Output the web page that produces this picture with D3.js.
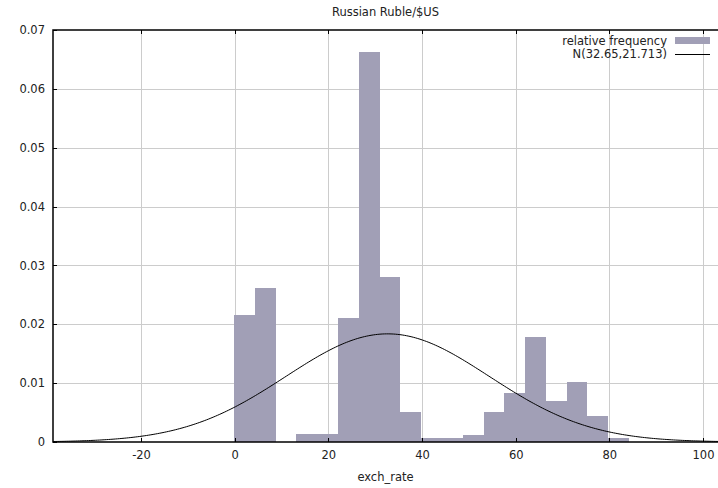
<!DOCTYPE html>
<html>
<head>
<meta charset="utf-8">
<script src="https://cdn.jsdelivr.net/npm/d3@7"></script>
<style>
  html, body { margin: 0; padding: 0; background: #fff; }
  svg { display: block; font-family: "DejaVu Sans", sans-serif; }
</style>
</head>
<body>
<svg id="chart" width="718" height="488"></svg>
<script>
// Histogram of the exchange rate (relative frequency density per bin)
const binCenters = [2.07, 6.51, 10.95, 15.39, 19.83, 24.27, 28.71, 33.15, 37.59, 42.03,
                    46.47, 50.91, 55.35, 59.79, 64.23, 68.67, 73.11, 77.55, 81.99];
const binWidth = 4.44;
const relFreq = [0.0216, 0.0261, 0, 0.0013, 0.0013, 0.0210, 0.0663, 0.0280, 0.0051, 0.0007,
                 0.0007, 0.0012, 0.0051, 0.0083, 0.0178, 0.0070, 0.0102, 0.0044, 0.0007];

// Fitted normal density N(mean, sd)
const normMean = 32.65;
const normSd = 21.713;

const xTicks = [-20, 0, 20, 40, 60, 80, 100];
const yTicks = [0, 0.01, 0.02, 0.03, 0.04, 0.05, 0.06, 0.07];

const titleText = "Russian Ruble/$US";
const xLabel = "exch_rate";
const legendLabels = ["relative frequency", "N(32.65,21.713)"];

const plotL = 53, plotR = 718, plotT = 30, plotB = 442;
const barColor = "#a19fb6";
const gridColor = "#cccccc";
const fontSize = 11.5;

const svg = d3.select("#chart");
const x = d3.scaleLinear().domain([-38.8, 103.2]).range([plotL, plotR]);
const y = d3.scaleLinear().domain([0, 0.07]).range([plotB, plotT]);

// grid
const grid = svg.append("g");
grid.selectAll("line.vx").data(xTicks).join("line")
  .attr("x1", d => Math.round(x(d)) + 0.5).attr("x2", d => Math.round(x(d)) + 0.5)
  .attr("y1", plotT).attr("y2", plotB)
  .attr("stroke", gridColor).attr("stroke-width", 1);
grid.selectAll("line.hy").data(yTicks.filter(d => d > 0 && d < 0.07)).join("line")
  .attr("x1", plotL).attr("x2", plotR)
  .attr("y1", d => Math.round(y(d)) + 0.5).attr("y2", d => Math.round(y(d)) + 0.5)
  .attr("stroke", gridColor).attr("stroke-width", 1);

// bars
svg.append("g").attr("shape-rendering", "crispEdges")
  .selectAll("rect").data(binCenters.map((c, i) => ({ c, f: relFreq[i] })).filter(d => d.f > 0))
  .join("rect")
  .attr("x", d => Math.round(x(d.c - binWidth / 2)))
  .attr("width", d => Math.round(x(d.c + binWidth / 2)) - Math.round(x(d.c - binWidth / 2)))
  .attr("y", d => Math.round(y(d.f)))
  .attr("height", d => plotB - Math.round(y(d.f)))
  .attr("fill", barColor);

// normal density curve
const dens = v => Math.exp(-0.5 * ((v - normMean) / normSd) ** 2) / (normSd * Math.sqrt(2 * Math.PI));
const xs = d3.range(300).map(i => x.domain()[0] + (x.domain()[1] - x.domain()[0]) * i / 299);
svg.append("path")
  .datum(xs)
  .attr("d", d3.line().x(v => x(v)).y(v => y(dens(v))))
  .attr("fill", "none").attr("stroke", "#000").attr("stroke-width", 1);

// axes
const xAxis = d3.axisBottom(x).tickValues(xTicks).tickSize(0).tickPadding(9)
  .tickFormat(d => String(d));
const gx = svg.append("g").attr("transform", `translate(0,${plotB})`).call(xAxis);
gx.select(".domain").remove();
gx.selectAll("text").attr("font-size", fontSize).attr("font-family", "DejaVu Sans").attr("fill", "#222");

const yAxis = d3.axisLeft(y).tickValues(yTicks).tickSize(0).tickPadding(8)
  .tickFormat(d => d === 0 ? "0" : d3.format(".2f")(d));
const gy = svg.append("g").attr("transform", `translate(${plotL},0)`).call(yAxis);
gy.select(".domain").remove();
gy.selectAll("text").attr("font-size", fontSize).attr("font-family", "DejaVu Sans").attr("fill", "#222");

// inner tick marks
const tk = svg.append("g").attr("stroke", "#000").attr("stroke-width", 1);
xTicks.forEach(t => {
  const px = Math.round(x(t)) + 0.5;
  tk.append("line").attr("x1", px).attr("x2", px).attr("y1", plotB).attr("y2", plotB - 4);
  tk.append("line").attr("x1", px).attr("x2", px).attr("y1", plotT).attr("y2", plotT + 4);
});
yTicks.forEach(t => {
  const py = Math.round(y(t)) + 0.5;
  tk.append("line").attr("x1", plotL).attr("x2", plotL + 4).attr("y1", py).attr("y2", py);
});

// frame
svg.append("path")
  .attr("d", `M${plotR},${plotT}H${plotL}V${plotB}H${plotR}`)
  .attr("fill", "none").attr("stroke", "#000").attr("stroke-width", 1.5);

// title and axis label
svg.append("text").attr("x", (plotL + plotR) / 2).attr("y", 16)
  .attr("text-anchor", "middle").attr("font-size", fontSize).attr("fill", "#222").text(titleText);
svg.append("text").attr("x", (plotL + plotR) / 2).attr("y", 481)
  .attr("text-anchor", "middle").attr("font-size", fontSize).attr("fill", "#222").text(xLabel);

// legend
const lg = svg.append("g");
lg.append("text").attr("x", 667).attr("y", 45).attr("text-anchor", "end")
  .attr("font-size", fontSize).attr("fill", "#222").text(legendLabels[0]);
lg.append("rect").attr("x", 675).attr("y", 37).attr("width", 35).attr("height", 7).attr("fill", barColor);
lg.append("text").attr("x", 667).attr("y", 58).attr("text-anchor", "end")
  .attr("font-size", fontSize).attr("fill", "#222").text(legendLabels[1]);
lg.append("line").attr("x1", 675).attr("x2", 710).attr("y1", 54.5).attr("y2", 54.5)
  .attr("stroke", "#000").attr("stroke-width", 1);
</script>
</body>
</html>
